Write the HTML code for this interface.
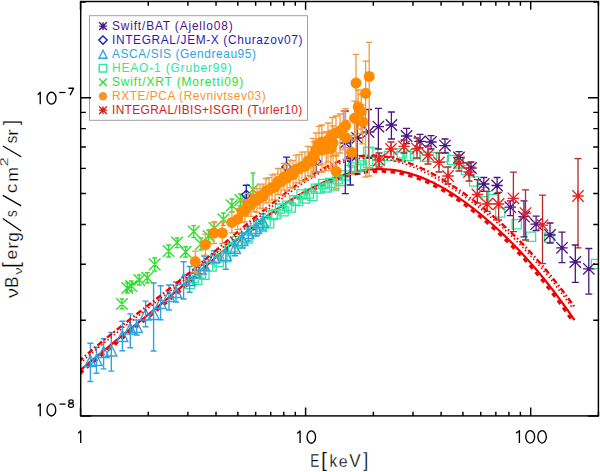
<!DOCTYPE html>
<html><head><meta charset="utf-8"><style>
html,body{margin:0;padding:0;background:#fff;}
body{width:600px;height:472px;overflow:hidden;position:relative;}
svg{position:absolute;left:0;top:0;}
text{font-family:"Liberation Sans", sans-serif;}
</style></head><body>
<svg width="600" height="472" viewBox="0 0 600 472">
<defs><clipPath id="pc"><rect x="80.7" y="1.5" width="517.7" height="414.4"/></clipPath></defs><g clip-path="url(#pc)"><path d="M79.94 373.56L81.94 371.84L83.93 370.12L85.93 368.42L87.92 366.72L89.92 365.02L91.92 363.34L93.91 361.66L95.91 359.99L97.91 358.32L99.91 356.66L101.90 355.00L103.90 353.35L105.90 351.71L107.90 350.07L109.89 348.43L111.89 346.79L113.89 345.16L115.89 343.54L117.89 341.91L119.89 340.29L121.88 338.67L123.88 337.05L125.88 335.43L127.88 333.81L129.88 332.20L131.88 330.58L133.88 328.97L135.88 327.35L137.88 325.73L139.88 324.12L141.88 322.50L143.89 320.88L145.89 319.25L147.89 317.63L149.89 316.00L151.89 314.37L153.89 312.74L155.89 311.10L157.90 309.45L159.90 307.81L161.90 306.16L163.90 304.50L165.91 302.84L167.91 301.17L169.91 299.50L171.92 297.82L173.92 296.13L175.92 294.44L177.92 292.75L179.92 291.05L181.93 289.34L183.93 287.64L185.93 285.93L187.93 284.21L189.93 282.50L191.93 280.78L193.93 279.06L195.93 277.34L197.93 275.62L199.93 273.90L201.93 272.18L203.93 270.46L205.93 268.75L207.93 267.03L209.93 265.32L211.93 263.60L213.93 261.89L215.93 260.19L217.93 258.49L219.92 256.79L221.92 255.10L223.92 253.41L225.92 251.72L227.91 250.05L229.91 248.38L231.91 246.71L233.90 245.06L235.90 243.41L237.90 241.77L239.89 240.13L241.89 238.51L243.88 236.90L245.88 235.29L247.87 233.70L249.87 232.11L251.86 230.54L253.85 228.98L255.85 227.43L257.84 225.89L259.83 224.37L261.83 222.85L263.82 221.36L265.81 219.87L267.80 218.40L269.79 216.95L271.78 215.51L273.77 214.09L275.77 212.68L277.76 211.29L279.74 209.91L281.73 208.56L283.72 207.22L285.71 205.90L287.70 204.60L289.69 203.31L291.67 202.05L293.66 200.81L295.65 199.58L297.63 198.38L299.62 197.20L301.60 196.04L303.59 194.90L305.57 193.78L307.55 192.68L309.54 191.61L311.52 190.56L313.50 189.54L315.48 188.54L317.46 187.56L319.44 186.61L321.42 185.68L323.40 184.78L325.38 183.90L327.36 183.05L329.33 182.23L331.31 181.43L333.29 180.66L335.26 179.92L337.23 179.21L339.21 178.52L341.18 177.86L343.15 177.24L345.12 176.64L347.09 176.07L349.06 175.53L351.03 175.03L353.00 174.55L354.97 174.11L356.94 173.69L358.90 173.31L360.87 172.96L362.83 172.65L364.80 172.36L366.76 172.11L368.72 171.90L370.68 171.72L372.65 171.57L374.61 171.46L376.57 171.38L378.53 171.34L380.49 171.33L382.44 171.36L384.40 171.43L386.36 171.54L388.32 171.68L390.28 171.86L392.24 172.08L394.19 172.33L396.15 172.63L398.11 172.96L400.07 173.34L402.03 173.75L403.99 174.20L405.95 174.69L407.91 175.21L409.87 175.78L411.84 176.38L413.80 177.02L415.77 177.69L417.74 178.40L419.71 179.14L421.67 179.92L423.64 180.74L425.62 181.59L427.59 182.47L429.56 183.38L431.53 184.33L433.51 185.31L435.48 186.33L437.46 187.37L439.44 188.45L441.41 189.56L443.39 190.70L445.37 191.86L447.35 193.06L449.33 194.29L451.31 195.55L453.29 196.83L455.28 198.15L457.26 199.49L459.24 200.85L461.23 202.25L463.21 203.67L465.20 205.12L467.18 206.59L469.17 208.09L471.15 209.61L473.14 211.16L475.13 212.73L477.12 214.33L479.11 215.95L481.09 217.59L483.08 219.25L485.07 220.94L487.06 222.65L489.05 224.38L491.04 226.14L493.03 227.92L495.02 229.72L497.01 231.55L498.99 233.41L500.98 235.29L502.97 237.19L504.96 239.12L506.95 241.08L508.94 243.06L510.93 245.06L512.92 247.09L514.91 249.15L516.90 251.24L518.89 253.35L520.88 255.49L522.88 257.66L524.87 259.85L526.86 262.07L528.85 264.32L530.84 266.60L532.83 268.91L534.82 271.24L536.81 273.61L538.80 276.00L540.80 278.42L542.79 280.88L544.78 283.36L546.77 285.87L548.76 288.41L550.76 290.98L552.75 293.59L554.74 296.22L556.73 298.88L558.73 301.58L560.72 304.31L562.71 307.07L564.71 309.86L566.70 312.68L568.69 315.54L570.69 318.43L572.68 321.36" stroke="#f00000" stroke-width="3.0" fill="none" stroke-dasharray="4.5 4.5"/>
<path d="M78.50 371.90L80.50 370.17L82.50 368.45L84.50 366.74L86.50 365.04L88.50 363.34L90.50 361.66L92.50 359.97L94.50 358.30L96.50 356.63L98.50 354.97L100.50 353.31L102.50 351.66L104.50 350.01L106.50 348.37L108.50 346.73L110.50 345.09L112.50 343.46L114.50 341.83L116.50 340.20L118.50 338.58L120.50 336.96L122.50 335.34L124.50 333.72L126.50 332.10L128.50 330.49L130.50 328.87L132.50 327.26L134.50 325.64L136.50 324.02L138.50 322.41L140.50 320.79L142.50 319.17L144.50 317.55L146.50 315.92L148.50 314.29L150.50 312.66L152.50 311.03L154.50 309.40L156.50 307.75L158.50 306.11L160.50 304.46L162.50 302.81L164.50 301.15L166.50 299.48L168.50 297.81L170.50 296.13L172.50 294.45L174.50 292.76L176.50 291.07L178.50 289.37L180.50 287.67L182.50 285.96L184.50 284.25L186.50 282.54L188.50 280.83L190.50 279.11L192.50 277.39L194.50 275.67L196.50 273.95L198.50 272.23L200.50 270.51L202.50 268.80L204.50 267.08L206.50 265.36L208.50 263.64L210.50 261.93L212.50 260.22L214.50 258.51L216.50 256.81L218.50 255.11L220.50 253.42L222.50 251.73L224.50 250.04L226.50 248.36L228.50 246.69L230.50 245.02L232.50 243.36L234.50 241.71L236.50 240.06L238.50 238.43L240.50 236.80L242.50 235.18L244.50 233.57L246.50 231.98L248.50 230.39L250.50 228.81L252.50 227.24L254.50 225.69L256.50 224.15L258.50 222.62L260.50 221.10L262.50 219.59L264.50 218.10L266.50 216.63L268.50 215.17L270.50 213.72L272.50 212.29L274.50 210.88L276.50 209.48L278.50 208.10L280.50 206.74L282.50 205.39L284.50 204.06L286.50 202.75L288.50 201.46L290.50 200.19L292.50 198.94L294.50 197.70L296.50 196.49L298.50 195.30L300.50 194.13L302.50 192.98L304.50 191.86L306.50 190.75L308.50 189.67L310.50 188.61L312.50 187.58L314.50 186.57L316.50 185.58L318.50 184.62L320.50 183.68L322.50 182.77L324.50 181.88L326.50 181.02L328.50 180.19L330.50 179.39L332.50 178.61L334.50 177.86L336.50 177.13L338.50 176.44L340.50 175.77L342.50 175.14L344.50 174.53L346.50 173.95L348.50 173.41L350.50 172.89L352.50 172.41L354.50 171.96L356.50 171.54L358.50 171.15L360.50 170.79L362.50 170.47L364.50 170.18L366.50 169.93L368.50 169.71L370.50 169.52L372.50 169.37L374.50 169.26L376.50 169.18L378.50 169.14L380.50 169.13L382.50 169.16L384.50 169.23L386.50 169.34L388.50 169.49L390.50 169.67L392.50 169.89L394.50 170.15L396.50 170.46L398.50 170.80L400.50 171.18L402.50 171.60L404.50 172.06L406.50 172.56L408.50 173.09L410.50 173.67L412.50 174.28L414.50 174.93L416.50 175.61L418.50 176.34L420.50 177.09L422.50 177.88L424.50 178.71L426.50 179.57L428.50 180.47L430.50 181.40L432.50 182.36L434.50 183.35L436.50 184.38L438.50 185.43L440.50 186.52L442.50 187.64L444.50 188.80L446.50 189.98L448.50 191.19L450.50 192.43L452.50 193.70L454.50 194.99L456.50 196.32L458.50 197.67L460.50 199.05L462.50 200.46L464.50 201.89L466.50 203.35L468.50 204.83L470.50 206.34L472.50 207.87L474.50 209.43L476.50 211.01L478.50 212.62L480.50 214.25L482.50 215.90L484.50 217.57L486.50 219.27L488.50 220.98L490.50 222.73L492.50 224.49L494.50 226.29L496.50 228.10L498.50 229.94L500.50 231.80L502.50 233.69L504.50 235.61L506.50 237.55L508.50 239.51L510.50 241.50L512.50 243.52L514.50 245.56L516.50 247.63L518.50 249.73L520.50 251.85L522.50 254.00L524.50 256.17L526.50 258.38L528.50 260.61L530.50 262.87L532.50 265.16L534.50 267.48L536.50 269.82L538.50 272.20L540.50 274.60L542.50 277.03L544.50 279.49L546.50 281.98L548.50 284.51L550.50 287.06L552.50 289.64L554.50 292.25L556.50 294.90L558.50 297.57L560.50 300.28L562.50 303.02L564.50 305.79L566.50 308.59L568.50 311.42L570.50 314.29L572.50 317.18L574.50 320.12" stroke="#f00000" stroke-width="2.2" fill="none"/>
<path d="M185.4 279.4h9.2v9.2h-9.2zM189.0 273.3h9.2v9.2h-9.2zM192.6 275.3h9.2v9.2h-9.2zM196.2 269.2h9.2v9.2h-9.2zM199.8 270.1h9.2v9.2h-9.2zM203.4 262.0h9.2v9.2h-9.2zM207.0 261.9h9.2v9.2h-9.2zM210.6 254.3h9.2v9.2h-9.2zM214.2 257.3h9.2v9.2h-9.2zM217.8 251.2h9.2v9.2h-9.2zM221.4 252.7h9.2v9.2h-9.2zM225.0 244.2h9.2v9.2h-9.2zM228.6 242.7h9.2v9.2h-9.2zM232.2 236.7h9.2v9.2h-9.2zM235.8 238.8h9.2v9.2h-9.2zM239.4 232.9h9.2v9.2h-9.2zM243.0 234.0h9.2v9.2h-9.2zM246.6 226.2h9.2v9.2h-9.2zM250.2 226.4h9.2v9.2h-9.2zM253.8 219.1h9.2v9.2h-9.2zM257.4 222.4h9.2v9.2h-9.2zM261.0 216.7h9.2v9.2h-9.2zM264.6 218.6h9.2v9.2h-9.2zM268.2 210.5h9.2v9.2h-9.2zM271.8 209.5h9.2v9.2h-9.2zM275.4 204.0h9.2v9.2h-9.2zM279.0 206.6h9.2v9.2h-9.2zM282.6 201.2h9.2v9.2h-9.2zM286.2 202.9h9.2v9.2h-9.2zM289.8 195.7h9.2v9.2h-9.2zM293.4 196.5h9.2v9.2h-9.2zM297.0 189.9h9.2v9.2h-9.2zM300.6 193.9h9.2v9.2h-9.2zM304.2 188.9h9.2v9.2h-9.2zM307.8 191.5h9.2v9.2h-9.2zM311.4 184.2h9.2v9.2h-9.2zM315.0 184.0h9.2v9.2h-9.2zM318.6 179.4h9.2v9.2h-9.2zM322.2 182.8h9.2v9.2h-9.2zM325.8 178.3h9.2v9.2h-9.2zM329.4 180.9h9.2v9.2h-9.2zM333.0 174.7h9.2v9.2h-9.2zM336.6 176.5h9.2v9.2h-9.2zM340.2 170.8h9.2v9.2h-9.2zM345.4 165.4h9.2v9.2h-9.2zM351.4 162.9h9.2v9.2h-9.2zM357.4 160.9h9.2v9.2h-9.2zM363.4 158.4h9.2v9.2h-9.2zM369.4 156.4h9.2v9.2h-9.2zM348.4 157.9h9.2v9.2h-9.2zM355.4 155.4h9.2v9.2h-9.2zM363.7 147.1h9.2v9.2h-9.2zM368.7 147.9h9.2v9.2h-9.2zM375.4 155.4h9.2v9.2h-9.2zM384.4 151.4h9.2v9.2h-9.2zM393.7 152.1h9.2v9.2h-9.2zM397.1 148.7h9.2v9.2h-9.2zM404.4 151.4h9.2v9.2h-9.2zM410.4 149.6h9.2v9.2h-9.2zM420.4 152.1h9.2v9.2h-9.2zM427.4 152.4h9.2v9.2h-9.2zM439.4 152.4h9.2v9.2h-9.2zM447.4 155.4h9.2v9.2h-9.2zM454.4 158.8h9.2v9.2h-9.2zM461.4 165.4h9.2v9.2h-9.2zM469.6 176.9h9.2v9.2h-9.2zM479.4 187.4h9.2v9.2h-9.2zM488.4 194.4h9.2v9.2h-9.2zM495.6 207.9h9.2v9.2h-9.2zM512.1 219.7h9.2v9.2h-9.2zM526.4 232.1h9.2v9.2h-9.2zM544.6 233.0h9.2v9.2h-9.2zM591.4 259.4h9.2v9.2h-9.2z" stroke="#2ee6a0" stroke-width="1.3" fill="none"/>
<path d="M90.4 343.3V381.5M87.4 343.3h6.0M87.4 381.5h6.0M84.9 366.5L90.4 355.5L95.9 366.5zM96.5 347.2V373.2M93.5 347.2h6.0M93.5 373.2h6.0M91.0 365.5L96.5 354.5L102.0 365.5zM103.6 338.8V368.9M100.6 338.8h6.0M100.6 368.9h6.0M98.1 357.5L103.6 346.5L109.1 357.5zM111.3 332.5V371.1M108.3 332.5h6.0M108.3 371.1h6.0M105.8 356.0L111.3 345.0L116.8 356.0zM122.4 321.2V350.8M119.4 321.2h6.0M119.4 350.8h6.0M116.9 341.5L122.4 330.5L127.9 341.5zM130.3 313.9V347.7M127.3 313.9h6.0M127.3 347.7h6.0M124.8 334.1L130.3 323.1L135.8 334.1zM136.8 320.0V335.0M133.8 320.0h6.0M133.8 335.0h6.0M131.3 332.5L136.8 321.5L142.3 332.5zM145.6 301.1V326.8M142.6 301.1h6.0M142.6 326.8h6.0M140.1 320.0L145.6 309.0L151.1 320.0zM153.6 283.0V351.0M150.6 283.0h6.0M150.6 351.0h6.0M148.1 319.5L153.6 308.5L159.1 319.5zM160.6 285.8V319.7M157.6 285.8h6.0M157.6 319.7h6.0M155.1 308.5L160.6 297.5L166.1 308.5zM169.0 285.0V310.0M166.0 285.0h6.0M166.0 310.0h6.0M163.5 301.5L169.0 290.5L174.5 301.5zM176.0 282.0V302.0M173.0 282.0h6.0M173.0 302.0h6.0M170.5 297.5L176.0 286.5L181.5 297.5zM183.6 261.7V299.0M180.6 261.7h6.0M180.6 299.0h6.0M178.1 284.5L183.6 273.5L189.1 284.5zM189.6 266.5V292.2M186.6 266.5h6.0M186.6 292.2h6.0M184.1 285.5L189.6 274.5L195.1 285.5zM195.0 265.0V278.3M192.0 265.0h6.0M192.0 278.3h6.0M189.5 277.5L195.0 266.5L200.5 277.5zM204.0 256.0V274.0M201.0 256.0h6.0M201.0 274.0h6.0M198.5 270.5L204.0 259.5L209.5 270.5zM214.2 250.8V262.5M211.2 250.8h6.0M211.2 262.5h6.0M208.7 262.5L214.2 251.5L219.7 262.5zM225.8 243.3V269.2M222.8 243.3h6.0M222.8 269.2h6.0M220.3 260.5L225.8 249.5L231.3 260.5zM235.0 240.0V255.8M232.0 240.0h6.0M232.0 255.8h6.0M229.5 253.5L235.0 242.5L240.5 253.5zM242.5 233.0V248.0M239.5 233.0h6.0M239.5 248.0h6.0M237.0 245.5L242.5 234.5L248.0 245.5zM248.3 226.0V241.0M245.3 226.0h6.0M245.3 241.0h6.0M242.8 238.5L248.3 227.5L253.8 238.5zM256.0 220.0V236.0M253.0 220.0h6.0M253.0 236.0h6.0M250.5 233.5L256.0 222.5L261.5 233.5zM263.0 214.0V230.0M260.0 214.0h6.0M260.0 230.0h6.0M257.5 227.5L263.0 216.5L268.5 227.5z" stroke="#2ea2e2" stroke-width="1.4" fill="none"/>
<path d="M78.50 361.77L80.50 360.00L82.50 358.25L84.50 356.51L86.50 354.78L88.50 353.06L90.50 351.35L92.50 349.66L94.50 347.97L96.50 346.29L98.50 344.63L100.50 342.97L102.50 341.32L104.50 339.68L106.50 338.05L108.50 336.43L110.50 334.81L112.50 333.20L114.50 331.60L116.50 330.00L118.50 328.41L120.50 326.83L122.50 325.25L124.50 323.67L126.50 322.10L128.50 320.53L130.50 318.97L132.50 317.41L134.50 315.85L136.50 314.29L138.50 312.74L140.50 311.19L142.50 309.64L144.50 308.09L146.50 306.53L148.50 304.98L150.50 303.43L152.50 301.88L154.50 300.33L156.50 298.77L158.50 297.22L160.50 295.66L162.50 294.10L164.50 292.53L166.50 290.96L168.50 289.39L170.50 287.82L172.50 286.24L174.50 284.65L176.50 283.06L178.50 281.46L180.50 279.86L182.50 278.25L184.50 276.63L186.50 275.01L188.50 273.37L190.50 271.73L192.50 270.09L194.50 268.43L196.50 266.77L198.50 265.11L200.50 263.44L202.50 261.76L204.50 260.08L206.50 258.39L208.50 256.70L210.50 255.01L212.50 253.32L214.50 251.62L216.50 249.92L218.50 248.22L220.50 246.51L222.50 244.81L224.50 243.11L226.50 241.40L228.50 239.70L230.50 238.00L232.50 236.30L234.50 234.60L236.50 232.90L238.50 231.20L240.50 229.51L242.50 227.82L244.50 226.14L246.50 224.46L248.50 222.78L250.50 221.11L252.50 219.44L254.50 217.78L256.50 216.13L258.50 214.48L260.50 212.84L262.50 211.21L264.50 209.59L266.50 207.97L268.50 206.37L270.50 204.77L272.50 203.18L274.50 201.60L276.50 200.04L278.50 198.48L280.50 196.93L282.50 195.40L284.50 193.88L286.50 192.38L288.50 190.88L290.50 189.41L292.50 187.95L294.50 186.51L296.50 185.09L298.50 183.69L300.50 182.32L302.50 180.96L304.50 179.63L306.50 178.32L308.50 177.04L310.50 175.78L312.50 174.56L314.50 173.36L316.50 172.19L318.50 171.05L320.50 169.95L322.50 168.87L324.50 167.83L326.50 166.83L328.50 165.86L330.50 164.93L332.50 164.04L334.50 163.19L336.50 162.38L338.50 161.61L340.50 160.88L342.50 160.19L344.50 159.55L346.50 158.96L348.50 158.41L350.50 157.91L352.50 157.46L354.50 157.06L356.50 156.70L358.50 156.40L360.50 156.15L362.50 155.94L364.50 155.78L366.50 155.66L368.50 155.59L370.50 155.57L372.50 155.59L374.50 155.66L376.50 155.76L378.50 155.91L380.50 156.11L382.50 156.34L384.50 156.61L386.50 156.93L388.50 157.28L390.50 157.68L392.50 158.11L394.50 158.58L396.50 159.08L398.50 159.62L400.50 160.20L402.50 160.81L404.50 161.46L406.50 162.14L408.50 162.85L410.50 163.60L412.50 164.38L414.50 165.19L416.50 166.03L418.50 166.90L420.50 167.80L422.50 168.73L424.50 169.69L426.50 170.67L428.50 171.69L430.50 172.72L432.50 173.79L434.50 174.88L436.50 175.99L438.50 177.13L440.50 178.29L442.50 179.47L444.50 180.68L446.50 181.91L448.50 183.15L450.50 184.42L452.50 185.71L454.50 187.01L456.50 188.34L458.50 189.68L460.50 191.05L462.50 192.43L464.50 193.83L466.50 195.25L468.50 196.69L470.50 198.15L472.50 199.63L474.50 201.13L476.50 202.66L478.50 204.20L480.50 205.76L482.50 207.35L484.50 208.96L486.50 210.58L488.50 212.24L490.50 213.91L492.50 215.60L494.50 217.32L496.50 219.06L498.50 220.83L500.50 222.61L502.50 224.42L504.50 226.26L506.50 228.11L508.50 230.00L510.50 231.90L512.50 233.83L514.50 235.79L516.50 237.77L518.50 239.77L520.50 241.80L522.50 243.86L524.50 245.94L526.50 248.05L528.50 250.18L530.50 252.35L532.50 254.53L534.50 256.75L536.50 258.99L538.50 261.26L540.50 263.55L542.50 265.87L544.50 268.23L546.50 270.61L548.50 273.01L550.50 275.45L552.50 277.91L554.50 280.41L556.50 282.93L558.50 285.48L560.50 288.06L562.50 290.68L564.50 293.32L566.50 295.99L568.50 298.69L570.50 301.42L572.50 304.19L574.50 306.98" stroke="#f00000" stroke-width="2.4" fill="none" stroke-dasharray="6 2.5 1.5 2.5"/>
<path d="M80.02 363.49L82.02 361.73L84.01 359.98L86.01 358.24L88.00 356.52L90.00 354.81L91.99 353.10L93.98 351.41L95.98 349.73L97.97 348.06L99.97 346.40L101.96 344.74L103.96 343.10L105.96 341.46L107.95 339.84L109.95 338.22L111.94 336.60L113.94 335.00L115.94 333.40L117.93 331.80L119.93 330.22L121.93 328.63L123.92 327.05L125.92 325.48L127.92 323.91L129.92 322.34L131.92 320.78L133.91 319.22L135.91 317.67L137.91 316.11L139.91 314.56L141.91 313.00L143.91 311.45L145.91 309.90L147.91 308.35L149.91 306.80L151.91 305.25L153.91 303.70L155.91 302.15L157.91 300.59L159.91 299.03L161.91 297.47L163.92 295.91L165.92 294.34L167.92 292.77L169.92 291.20L171.93 289.62L173.93 288.04L175.93 286.45L177.93 284.86L179.94 283.26L181.94 281.65L183.94 280.04L185.95 278.42L187.95 276.79L189.96 275.15L191.96 273.51L193.96 271.86L195.97 270.20L197.97 268.54L199.97 266.87L201.98 265.20L203.98 263.52L205.98 261.84L207.98 260.15L209.98 258.46L211.99 256.77L213.99 255.07L215.99 253.37L217.99 251.67L219.99 249.97L221.99 248.27L223.99 246.56L225.99 244.86L227.99 243.15L229.99 241.45L231.99 239.75L233.99 238.05L235.99 236.35L237.99 234.65L239.99 232.96L241.98 231.27L243.98 229.58L245.98 227.90L247.98 226.22L249.98 224.54L251.97 222.87L253.97 221.21L255.97 219.55L257.96 217.90L259.96 216.26L261.96 214.62L263.95 213.00L265.95 211.38L267.94 209.76L269.94 208.16L271.93 206.57L273.93 204.98L275.92 203.41L277.92 201.85L279.91 200.30L281.90 198.76L283.90 197.23L285.89 195.72L287.88 194.22L289.87 192.73L291.86 191.27L293.85 189.82L295.84 188.39L297.83 186.97L299.81 185.58L301.80 184.22L303.78 182.87L305.77 181.55L307.75 180.25L309.73 178.98L311.71 177.74L313.69 176.52L315.67 175.34L317.65 174.18L319.63 173.06L321.60 171.97L323.57 170.91L325.55 169.88L327.52 168.89L329.49 167.94L331.45 167.03L333.42 166.15L335.38 165.31L337.35 164.51L339.31 163.76L341.27 163.05L343.22 162.38L345.18 161.75L347.13 161.17L349.08 160.63L351.03 160.15L352.98 159.71L354.93 159.32L356.87 158.97L358.82 158.68L360.76 158.43L362.71 158.23L364.66 158.07L366.61 157.96L368.55 157.89L370.50 157.87L372.45 157.89L374.40 157.95L376.35 158.06L378.30 158.21L380.26 158.39L382.21 158.62L384.17 158.89L386.12 159.20L388.08 159.54L390.04 159.93L392.00 160.35L393.96 160.81L395.92 161.31L397.88 161.84L399.84 162.40L401.81 163.01L403.78 163.64L405.74 164.31L407.71 165.01L409.68 165.75L411.65 166.52L413.62 167.32L415.60 168.14L417.57 169.00L419.54 169.89L421.52 170.81L423.50 171.76L425.47 172.73L427.45 173.73L429.43 174.76L431.41 175.81L433.39 176.89L435.37 178.00L437.35 179.12L439.34 180.27L441.32 181.45L443.30 182.64L445.29 183.86L447.28 185.10L449.26 186.36L451.25 187.64L453.24 188.94L455.22 190.25L457.21 191.59L459.20 192.94L461.19 194.32L463.17 195.71L465.16 197.12L467.15 198.55L469.14 200.00L471.13 201.48L473.11 202.97L475.10 204.48L477.09 206.02L479.08 207.57L481.07 209.15L483.05 210.74L485.04 212.36L487.03 214.00L489.02 215.67L491.01 217.35L493.00 219.06L494.98 220.79L496.97 222.55L498.96 224.32L500.95 226.12L502.94 227.95L504.93 229.79L506.92 231.67L508.91 233.56L510.90 235.48L512.89 237.43L514.88 239.40L516.87 241.39L518.86 243.41L520.85 245.46L522.84 247.53L524.83 249.63L526.82 251.75L528.81 253.90L530.80 256.08L532.79 258.28L534.78 260.51L536.77 262.77L538.76 265.06L540.75 267.37L542.74 269.71L544.74 272.08L546.73 274.48L548.72 276.90L550.71 279.36L552.70 281.84L554.69 284.35L556.69 286.90L558.68 289.47L560.67 292.07L562.66 294.70L564.66 297.36L566.65 300.05L568.64 302.78L570.63 305.53L572.63 308.32" stroke="#e00000" stroke-width="1.6" fill="none" stroke-dasharray="1.5 2.5"/>
<path d="M122.0 299.0V308.7M119.6 299.0h4.8M119.6 308.7h4.8M116.2 298.2l11.6 11.6M116.2 309.8l11.6 -11.6M127.3 283.0V293.0M124.9 283.0h4.8M124.9 293.0h4.8M121.5 282.2l11.6 11.6M121.5 293.8l11.6 -11.6M131.3 281.0V291.0M128.9 281.0h4.8M128.9 291.0h4.8M125.5 280.2l11.6 11.6M125.5 291.8l11.6 -11.6M139.3 275.0V285.0M136.9 275.0h4.8M136.9 285.0h4.8M133.5 274.2l11.6 11.6M133.5 285.8l11.6 -11.6M147.3 272.7V282.7M144.9 272.7h4.8M144.9 282.7h4.8M141.5 271.9l11.6 11.6M141.5 283.5l11.6 -11.6M154.7 258.0V271.0M152.3 258.0h4.8M152.3 271.0h4.8M148.9 258.6l11.6 11.6M148.9 270.2l11.6 -11.6M168.6 245.0V257.0M166.2 245.0h4.8M166.2 257.0h4.8M162.8 245.2l11.6 11.6M162.8 256.8l11.6 -11.6M177.1 238.0V247.6M174.7 238.0h4.8M174.7 247.6h4.8M171.3 236.7l11.6 11.6M171.3 248.3l11.6 -11.6M185.6 246.8V257.0M183.2 246.8h4.8M183.2 257.0h4.8M179.8 246.1l11.6 11.6M179.8 257.7l11.6 -11.6M193.7 225.6V237.5M191.3 225.6h4.8M191.3 237.5h4.8M187.9 225.7l11.6 11.6M187.9 237.3l11.6 -11.6M201.0 238.0V250.0M198.6 238.0h4.8M198.6 250.0h4.8M195.2 238.2l11.6 11.6M195.2 249.8l11.6 -11.6M208.6 230.0V242.0M206.2 230.0h4.8M206.2 242.0h4.8M202.8 230.2l11.6 11.6M202.8 241.8l11.6 -11.6M214.4 222.0V234.0M212.0 222.0h4.8M212.0 234.0h4.8M208.6 222.2l11.6 11.6M208.6 233.8l11.6 -11.6M223.4 213.0V225.4M221.0 213.0h4.8M221.0 225.4h4.8M217.6 213.4l11.6 11.6M217.6 225.0l11.6 -11.6M231.9 199.0V212.0M229.5 199.0h4.8M229.5 212.0h4.8M226.1 199.6l11.6 11.6M226.1 211.2l11.6 -11.6M240.4 194.0V206.0M238.0 194.0h4.8M238.0 206.0h4.8M234.6 194.3l11.6 11.6M234.6 205.9l11.6 -11.6M253.0 173.0V200.0M250.6 173.0h4.8M250.6 200.0h4.8M247.2 183.7l11.6 11.6M247.2 195.3l11.6 -11.6" stroke="#30e030" stroke-width="1.4" fill="none"/>
<path d="M246.3 185.3V201.0M242.8 185.3h7.0M242.8 201.0h7.0M241.7 194.8L246.3 190.2L250.9 194.8L246.3 199.4zM286.5 157.1V180.0M283.0 157.1h7.0M283.0 180.0h7.0M281.9 167.0L286.5 162.4L291.1 167.0L286.5 171.6zM316.4 152.5V172.0M312.9 152.5h7.0M312.9 172.0h7.0M311.8 161.4L316.4 156.8L321.0 161.4L316.4 166.0zM350.3 140.0V185.0M346.8 140.0h7.0M346.8 185.0h7.0M345.7 158.0L350.3 153.4L354.9 158.0L350.3 162.6z" stroke="#1f1fb4" stroke-width="1.4" fill="none"/>
<path d="M345.3 111.0V193.6M341.8 111.0h7.0M341.8 193.6h7.0M339.6 143.0h11.4M345.3 137.3v11.4M339.6 137.3l11.4 11.4M339.6 148.7l11.4 -11.4M357.1 120.0V174.0M353.6 120.0h7.0M353.6 174.0h7.0M351.4 138.0h11.4M357.1 132.3v11.4M351.4 132.3l11.4 11.4M351.4 143.7l11.4 -11.4M368.6 109.5V158.0M365.1 109.5h7.0M365.1 158.0h7.0M362.9 132.0h11.4M368.6 126.3v11.4M362.9 126.3l11.4 11.4M362.9 137.7l11.4 -11.4M378.4 108.4V149.0M374.9 108.4h7.0M374.9 149.0h7.0M372.7 126.6h11.4M378.4 120.9v11.4M372.7 120.9l11.4 11.4M372.7 132.3l11.4 -11.4M391.4 112.0V139.0M387.9 112.0h7.0M387.9 139.0h7.0M385.7 125.0h11.4M391.4 119.3v11.4M385.7 119.3l11.4 11.4M385.7 130.7l11.4 -11.4M406.6 128.4V143.6M403.1 128.4h7.0M403.1 143.6h7.0M400.9 136.0h11.4M406.6 130.3v11.4M400.9 130.3l11.4 11.4M400.9 141.7l11.4 -11.4M420.0 134.4V148.0M416.5 134.4h7.0M416.5 148.0h7.0M414.3 141.4h11.4M420.0 135.7v11.4M414.3 135.7l11.4 11.4M414.3 147.1l11.4 -11.4M431.0 135.6V149.0M427.5 135.6h7.0M427.5 149.0h7.0M425.3 142.0h11.4M431.0 136.3v11.4M425.3 136.3l11.4 11.4M425.3 147.7l11.4 -11.4M445.0 139.0V153.0M441.5 139.0h7.0M441.5 153.0h7.0M439.3 145.6h11.4M445.0 139.9v11.4M439.3 139.9l11.4 11.4M439.3 151.3l11.4 -11.4M459.0 151.6V163.6M455.5 151.6h7.0M455.5 163.6h7.0M453.3 157.4h11.4M459.0 151.7v11.4M453.3 151.7l11.4 11.4M453.3 163.1l11.4 -11.4M471.0 162.0V175.0M467.5 162.0h7.0M467.5 175.0h7.0M465.3 168.0h11.4M471.0 162.3v11.4M465.3 162.3l11.4 11.4M465.3 173.7l11.4 -11.4M483.8 177.5V191.3M480.3 177.5h7.0M480.3 191.3h7.0M478.1 184.0h11.4M483.8 178.3v11.4M478.1 178.3l11.4 11.4M478.1 189.7l11.4 -11.4M497.1 177.5V193.4M493.6 177.5h7.0M493.6 193.4h7.0M491.4 185.5h11.4M497.1 179.8v11.4M491.4 179.8l11.4 11.4M491.4 191.2l11.4 -11.4M510.3 200.8V215.7M506.8 200.8h7.0M506.8 215.7h7.0M504.6 207.2h11.4M510.3 201.5v11.4M504.6 201.5l11.4 11.4M504.6 212.9l11.4 -11.4M524.0 200.8V236.9M520.5 200.8h7.0M520.5 236.9h7.0M518.3 216.7h11.4M524.0 211.0v11.4M518.3 211.0l11.4 11.4M518.3 222.4l11.4 -11.4M536.1 216.1V230.5M532.6 216.1h7.0M532.6 230.5h7.0M530.4 224.2h11.4M536.1 218.5v11.4M530.4 218.5l11.4 11.4M530.4 229.9l11.4 -11.4M550.0 223.0V243.0M546.5 223.0h7.0M546.5 243.0h7.0M544.3 235.0h11.4M550.0 229.3v11.4M544.3 229.3l11.4 11.4M544.3 240.7l11.4 -11.4M562.0 232.2V262.7M558.5 232.2h7.0M558.5 262.7h7.0M556.3 247.8h11.4M562.0 242.1v11.4M556.3 242.1l11.4 11.4M556.3 253.5l11.4 -11.4M575.3 245.0V282.4M571.8 245.0h7.0M571.8 282.4h7.0M569.6 262.0h11.4M575.3 256.3v11.4M569.6 256.3l11.4 11.4M569.6 267.7l11.4 -11.4M588.8 248.5V294.2M585.3 248.5h7.0M585.3 294.2h7.0M583.1 268.8h11.4M588.8 263.1v11.4M583.1 263.1l11.4 11.4M583.1 274.5l11.4 -11.4" stroke="#4a1583" stroke-width="1.3" fill="none"/>
<path d="M379.0 153.0V167.0M375.5 153.0h7.0M375.5 167.0h7.0M391.0 142.0V157.0M387.5 142.0h7.0M387.5 157.0h7.0M404.0 140.0V153.0M400.5 140.0h7.0M400.5 153.0h7.0M417.0 138.0V158.0M413.5 138.0h7.0M413.5 158.0h7.0M428.0 146.0V164.0M424.5 146.0h7.0M424.5 164.0h7.0M439.0 153.0V172.0M435.5 153.0h7.0M435.5 172.0h7.0M448.0 167.0V184.0M444.5 167.0h7.0M444.5 184.0h7.0M459.0 155.0V171.0M455.5 155.0h7.0M455.5 171.0h7.0M469.0 163.0V181.0M465.5 163.0h7.0M465.5 181.0h7.0M477.4 179.7V203.0M473.9 179.7h7.0M473.9 203.0h7.0M487.0 191.3V211.4M483.5 191.3h7.0M483.5 211.4h7.0M498.6 192.4V220.0M495.1 192.4h7.0M495.1 220.0h7.0M513.4 172.2V231.6M509.9 172.2h7.0M509.9 231.6h7.0M525.5 189.8V240.0M522.0 189.8h7.0M522.0 240.0h7.0M542.5 195.1V263.7M539.0 195.1h7.0M539.0 263.7h7.0M578.0 158.6V247.8M574.5 158.6h7.0M574.5 247.8h7.0" stroke="#b42828" stroke-width="1.3" fill="none"/>
<path d="M373.3 160.0h11.4M379.0 154.3v11.4M373.3 154.3l11.4 11.4M373.3 165.7l11.4 -11.4M385.3 149.0h11.4M391.0 143.3v11.4M385.3 143.3l11.4 11.4M385.3 154.7l11.4 -11.4M398.3 146.4h11.4M404.0 140.7v11.4M398.3 140.7l11.4 11.4M398.3 152.1l11.4 -11.4M411.3 148.6h11.4M417.0 142.9v11.4M411.3 142.9l11.4 11.4M411.3 154.3l11.4 -11.4M422.3 155.0h11.4M428.0 149.3v11.4M422.3 149.3l11.4 11.4M422.3 160.7l11.4 -11.4M433.3 162.4h11.4M439.0 156.7v11.4M433.3 156.7l11.4 11.4M433.3 168.1l11.4 -11.4M442.3 176.0h11.4M448.0 170.3v11.4M442.3 170.3l11.4 11.4M442.3 181.7l11.4 -11.4M453.3 163.0h11.4M459.0 157.3v11.4M453.3 157.3l11.4 11.4M453.3 168.7l11.4 -11.4M463.3 172.0h11.4M469.0 166.3v11.4M463.3 166.3l11.4 11.4M463.3 177.7l11.4 -11.4M471.7 194.5h11.4M477.4 188.8v11.4M471.7 188.8l11.4 11.4M471.7 200.2l11.4 -11.4M481.3 204.0h11.4M487.0 198.3v11.4M481.3 198.3l11.4 11.4M481.3 209.7l11.4 -11.4M492.9 204.0h11.4M498.6 198.3v11.4M492.9 198.3l11.4 11.4M492.9 209.7l11.4 -11.4M507.7 198.3h11.4M513.4 192.6v11.4M507.7 192.6l11.4 11.4M507.7 204.0l11.4 -11.4M519.8 213.1h11.4M525.5 207.4v11.4M519.8 207.4l11.4 11.4M519.8 218.8l11.4 -11.4M536.8 225.2h11.4M542.5 219.5v11.4M536.8 219.5l11.4 11.4M536.8 230.9l11.4 -11.4M572.3 196.0h11.4M578.0 190.3v11.4M572.3 190.3l11.4 11.4M572.3 201.7l11.4 -11.4" stroke="#e82020" stroke-width="1.3" fill="none"/>
<path d="M195.3 251.1V272.1M192.1 251.1h6.4M192.1 272.1h6.4M205.4 234.1V255.1M202.2 234.1h6.4M202.2 255.1h6.4M213.9 222.5V243.5M210.7 222.5h6.4M210.7 243.5h6.4M222.4 222.5V243.5M219.2 222.5h6.4M219.2 243.5h6.4M231.9 211.9V232.9M228.7 211.9h6.4M228.7 232.9h6.4M237.6 208.7V229.7M234.4 208.7h6.4M234.4 229.7h6.4M242.0 200.5V222.5M238.8 200.5h6.4M238.8 222.5h6.4M245.0 199.6V221.9M241.8 199.6h6.4M241.8 221.9h6.4M248.0 193.6V216.3M244.8 193.6h6.4M244.8 216.3h6.4M251.0 193.4V216.4M247.8 193.4h6.4M247.8 216.4h6.4M254.0 188.0V211.3M250.8 188.0h6.4M250.8 211.3h6.4M257.0 188.6V212.3M253.8 188.6h6.4M253.8 212.3h6.4M260.0 184.1V208.1M256.8 184.1h6.4M256.8 208.1h6.4M263.0 184.2V208.6M259.8 184.2h6.4M259.8 208.6h6.4M266.0 178.5V203.2M262.8 178.5h6.4M262.8 203.2h6.4M269.0 177.7V202.7M265.8 177.7h6.4M265.8 202.7h6.4M272.0 174.8V200.2M268.8 174.8h6.4M268.8 200.2h6.4M275.0 174.2V199.9M271.8 174.2h6.4M271.8 199.9h6.4M278.0 168.5V194.5M274.8 168.5h6.4M274.8 194.5h6.4M281.0 168.6V194.9M277.8 168.6h6.4M277.8 194.9h6.4M284.0 163.5V190.2M280.8 163.5h6.4M280.8 190.2h6.4M287.0 164.4V191.4M283.8 164.4h6.4M283.8 191.4h6.4M290.0 160.2V187.6M286.8 160.2h6.4M286.8 187.6h6.4M293.0 160.6V188.3M289.8 160.6h6.4M289.8 188.3h6.4M296.0 155.2V183.2M292.8 155.2h6.4M292.8 183.2h6.4M299.0 154.7V183.0M295.8 154.7h6.4M295.8 183.0h6.4M302.0 152.1V180.8M298.8 152.1h6.4M298.8 180.8h6.4M305.0 151.8V180.8M301.8 151.8h6.4M301.8 180.8h6.4M308.0 146.4V175.8M304.8 146.4h6.4M304.8 175.8h6.4M311.0 146.8V176.5M307.8 146.8h6.4M307.8 176.5h6.4M314.0 142.0V172.0M310.8 142.0h6.4M310.8 172.0h6.4M313.0 138.3V177.3M309.8 138.3h6.4M309.8 177.3h6.4M318.9 126.4V165.4M315.7 126.4h6.4M315.7 165.4h6.4M321.9 125.0V164.0M318.7 125.0h6.4M318.7 164.0h6.4M326.3 131.6V170.6M323.1 131.6h6.4M323.1 170.6h6.4M330.8 131.6V170.6M327.6 131.6h6.4M327.6 170.6h6.4M332.3 117.5V156.5M329.1 117.5h6.4M329.1 156.5h6.4M336.0 116.0V155.0M332.8 116.0h6.4M332.8 155.0h6.4M343.4 110.8V149.8M340.2 110.8h6.4M340.2 149.8h6.4M345.6 108.6V147.6M342.4 108.6h6.4M342.4 147.6h6.4M345.6 120.5V159.5M342.4 120.5h6.4M342.4 159.5h6.4M351.5 135.3V174.3M348.3 135.3h6.4M348.3 174.3h6.4M354.5 101.2V140.2M351.3 101.2h6.4M351.3 140.2h6.4M358.2 90.0V129.0M355.0 90.0h6.4M355.0 129.0h6.4M361.2 94.5V133.5M358.0 94.5h6.4M358.0 133.5h6.4M362.7 104.9V143.9M359.5 104.9h6.4M359.5 143.9h6.4M340.0 114.0V153.0M336.8 114.0h6.4M336.8 153.0h6.4M328.0 123.0V162.0M324.8 123.0h6.4M324.8 162.0h6.4M316.0 133.0V172.0M312.8 133.0h6.4M312.8 172.0h6.4M322.0 133.0V172.0M318.8 133.0h6.4M318.8 172.0h6.4M333.0 126.0V165.0M329.8 126.0h6.4M329.8 165.0h6.4M336.2 156.0V189.0M333.0 156.0h6.4M333.0 189.0h6.4M356.0 54.4V172.0M352.8 54.4h6.4M352.8 172.0h6.4M365.6 61.2V177.0M362.4 61.2h6.4M362.4 177.0h6.4M369.2 42.4V176.0M366.0 42.4h6.4M366.0 176.0h6.4" stroke="#ee9a40" stroke-width="1.3" fill="none"/>
<circle cx="195.3" cy="261.6" r="5.5" fill="#ff8c00"/><circle cx="205.4" cy="244.6" r="5.5" fill="#ff8c00"/><circle cx="213.9" cy="233.0" r="5.5" fill="#ff8c00"/><circle cx="222.4" cy="233.0" r="5.5" fill="#ff8c00"/><circle cx="231.9" cy="222.4" r="5.5" fill="#ff8c00"/><circle cx="237.6" cy="219.2" r="5.5" fill="#ff8c00"/><circle cx="242.0" cy="211.5" r="5.5" fill="#ff8c00"/><circle cx="245.0" cy="210.8" r="5.5" fill="#ff8c00"/><circle cx="248.0" cy="205.0" r="5.5" fill="#ff8c00"/><circle cx="251.0" cy="204.9" r="5.5" fill="#ff8c00"/><circle cx="254.0" cy="199.6" r="5.5" fill="#ff8c00"/><circle cx="257.0" cy="200.4" r="5.5" fill="#ff8c00"/><circle cx="260.0" cy="196.1" r="5.5" fill="#ff8c00"/><circle cx="263.0" cy="196.4" r="5.5" fill="#ff8c00"/><circle cx="266.0" cy="190.9" r="5.5" fill="#ff8c00"/><circle cx="269.0" cy="190.2" r="5.5" fill="#ff8c00"/><circle cx="272.0" cy="187.5" r="5.5" fill="#ff8c00"/><circle cx="275.0" cy="187.1" r="5.5" fill="#ff8c00"/><circle cx="278.0" cy="181.5" r="5.5" fill="#ff8c00"/><circle cx="281.0" cy="181.8" r="5.5" fill="#ff8c00"/><circle cx="284.0" cy="176.8" r="5.5" fill="#ff8c00"/><circle cx="287.0" cy="177.9" r="5.5" fill="#ff8c00"/><circle cx="290.0" cy="173.9" r="5.5" fill="#ff8c00"/><circle cx="293.0" cy="174.5" r="5.5" fill="#ff8c00"/><circle cx="296.0" cy="169.2" r="5.5" fill="#ff8c00"/><circle cx="299.0" cy="168.8" r="5.5" fill="#ff8c00"/><circle cx="302.0" cy="166.5" r="5.5" fill="#ff8c00"/><circle cx="305.0" cy="166.3" r="5.5" fill="#ff8c00"/><circle cx="308.0" cy="161.1" r="5.5" fill="#ff8c00"/><circle cx="311.0" cy="161.6" r="5.5" fill="#ff8c00"/><circle cx="314.0" cy="157.0" r="5.5" fill="#ff8c00"/><circle cx="313.0" cy="155.3" r="5.5" fill="#ff8c00"/><circle cx="318.9" cy="143.4" r="5.5" fill="#ff8c00"/><circle cx="321.9" cy="142.0" r="5.5" fill="#ff8c00"/><circle cx="326.3" cy="148.6" r="5.5" fill="#ff8c00"/><circle cx="330.8" cy="148.6" r="5.5" fill="#ff8c00"/><circle cx="332.3" cy="134.5" r="5.5" fill="#ff8c00"/><circle cx="336.0" cy="133.0" r="5.5" fill="#ff8c00"/><circle cx="343.4" cy="127.8" r="5.5" fill="#ff8c00"/><circle cx="345.6" cy="125.6" r="5.5" fill="#ff8c00"/><circle cx="345.6" cy="137.5" r="5.5" fill="#ff8c00"/><circle cx="351.5" cy="152.3" r="5.5" fill="#ff8c00"/><circle cx="354.5" cy="118.2" r="5.5" fill="#ff8c00"/><circle cx="358.2" cy="107.0" r="5.5" fill="#ff8c00"/><circle cx="361.2" cy="111.5" r="5.5" fill="#ff8c00"/><circle cx="362.7" cy="121.9" r="5.5" fill="#ff8c00"/><circle cx="340.0" cy="131.0" r="5.5" fill="#ff8c00"/><circle cx="328.0" cy="140.0" r="5.5" fill="#ff8c00"/><circle cx="316.0" cy="150.0" r="5.5" fill="#ff8c00"/><circle cx="322.0" cy="150.0" r="5.5" fill="#ff8c00"/><circle cx="333.0" cy="143.0" r="5.5" fill="#ff8c00"/><circle cx="336.2" cy="171.4" r="5.5" fill="#ff8c00"/><circle cx="356.0" cy="83.0" r="5.5" fill="#ff8c00"/><circle cx="365.6" cy="93.3" r="5.5" fill="#ff8c00"/><circle cx="369.2" cy="76.4" r="5.5" fill="#ff8c00"/>
<rect x="89.5" y="15.7" width="218" height="104.6" fill="#fff" stroke="#a0a0a0" stroke-width="1"/>
<path d="M99.2 26.1h7.6M103.0 22.3v7.6M99.2 22.3l7.6 7.6M99.2 29.9l7.6 -7.6" stroke="#4a1583" stroke-width="1.4" fill="none"/>
<text x="112" y="30.0" font-size="11.9" fill="#4a1583" textLength="120.7" lengthAdjust="spacing">Swift/BAT (Ajello08)</text>
<path d="M98.8 40.1L103.0 35.9L107.2 40.1L103.0 44.3z" stroke="#1f1fb4" stroke-width="1.4" fill="none"/>
<text x="112" y="44.03" font-size="11.9" fill="#1f1fb4" textLength="190.5" lengthAdjust="spacing">INTEGRAL/JEM-X (Churazov07)</text>
<path d="M99.0 58.2L103.0 50.2L107.0 58.2z" stroke="#2ea2e2" stroke-width="1.4" fill="none"/>
<text x="112" y="58.06" font-size="11.9" fill="#2ea2e2" textLength="144" lengthAdjust="spacing">ASCA/SIS (Gendreau95)</text>
<path d="M99.2 64.4h7.6v7.6h-7.6z" stroke="#2ee6a0" stroke-width="1.4" fill="none"/>
<text x="112" y="72.09" font-size="11.9" fill="#2ee6a0" textLength="119.7" lengthAdjust="spacing">HEAO-1 (Gruber99)</text>
<path d="M99.2 78.4l7.6 7.6M99.2 86.0l7.6 -7.6" stroke="#30e030" stroke-width="1.4" fill="none"/>
<text x="112" y="86.12" font-size="11.9" fill="#30e030" textLength="131.2" lengthAdjust="spacing">Swift/XRT (Moretti09)</text>
<circle cx="103" cy="96.24999999999999" r="4.2" fill="#f59530"/>
<text x="112" y="100.14999999999999" font-size="11.9" fill="#f59530" textLength="153.7" lengthAdjust="spacing">RXTE/PCA (Revnivtsev03)</text>
<path d="M99.2 110.3h7.6M103.0 106.5v7.6M99.2 106.5l7.6 7.6M99.2 114.1l7.6 -7.6" stroke="#d82020" stroke-width="1.4" fill="none"/>
<text x="112" y="114.17999999999999" font-size="11.9" fill="#d82020" textLength="190.2" lengthAdjust="spacing">INTEGRAL/IBIS+ISGRI (Turler10)</text></g><rect x="80.7" y="1.5" width="517.6999999999999" height="414.4" fill="none" stroke="#000" stroke-width="1.45"/><path d="M80.50 415.9v-8.3M80.50 1.5v8.3M148.26 415.9v-4.2M148.26 1.5v4.2M187.90 415.9v-4.2M187.90 1.5v4.2M216.02 415.9v-4.2M216.02 1.5v4.2M237.84 415.9v-4.2M237.84 1.5v4.2M255.66 415.9v-4.2M255.66 1.5v4.2M270.73 415.9v-4.2M270.73 1.5v4.2M283.79 415.9v-4.2M283.79 1.5v4.2M295.30 415.9v-4.2M295.30 1.5v4.2M305.60 415.9v-8.3M305.60 1.5v8.3M373.36 415.9v-4.2M373.36 1.5v4.2M413.00 415.9v-4.2M413.00 1.5v4.2M441.12 415.9v-4.2M441.12 1.5v4.2M462.94 415.9v-4.2M462.94 1.5v4.2M480.76 415.9v-4.2M480.76 1.5v4.2M495.83 415.9v-4.2M495.83 1.5v4.2M508.89 415.9v-4.2M508.89 1.5v4.2M520.40 415.9v-4.2M520.40 1.5v4.2M530.70 415.9v-8.3M530.70 1.5v8.3M598.46 415.9v-4.2M598.46 1.5v4.2M80.7 416.00h10.4M598.4 416.00h-10.4M80.7 320.21h5.2M598.4 320.21h-5.2M80.7 264.18h5.2M598.4 264.18h-5.2M80.7 224.42h5.2M598.4 224.42h-5.2M80.7 193.59h5.2M598.4 193.59h-5.2M80.7 168.39h5.2M598.4 168.39h-5.2M80.7 147.09h5.2M598.4 147.09h-5.2M80.7 128.64h5.2M598.4 128.64h-5.2M80.7 112.36h5.2M598.4 112.36h-5.2M80.7 97.80h10.4M598.4 97.80h-10.4M80.7 2.01h5.2M598.4 2.01h-5.2" stroke="#000" stroke-width="1.45" fill="none"/><path d="M80.70 443.00V430.80L78.20 433.40" stroke="#000" stroke-width="1.35" fill="none" stroke-linejoin="round"/>
<path d="M300.10 442.90V431.00L297.20 433.60" stroke="#000" stroke-width="1.35" fill="none" stroke-linejoin="round"/>
<ellipse cx="311.30" cy="437.05" rx="4.25" ry="6.20" stroke="#000" stroke-width="1.35" fill="none"/>
<path d="M519.40 443.00V430.70L516.10 433.30" stroke="#000" stroke-width="1.35" fill="none" stroke-linejoin="round"/>
<ellipse cx="530.20" cy="436.80" rx="4.45" ry="6.25" stroke="#000" stroke-width="1.35" fill="none"/>
<ellipse cx="542.10" cy="436.80" rx="4.25" ry="6.25" stroke="#000" stroke-width="1.35" fill="none"/>
<text font-size="100" fill="#000" stroke="#fff" stroke-width="1.56" transform="matrix(0.13641 0 0 0.18327 310.225 466.650)">E</text>
<text font-size="100" fill="#000" stroke="#fff" stroke-width="1.19" transform="matrix(0.21266 0 0 0.20804 321.108 466.733)">[</text>
<text font-size="100" fill="#000" stroke="#fff" stroke-width="1.51" transform="matrix(0.15491 0 0 0.17655 329.404 466.650)">k</text>
<text font-size="100" fill="#000" stroke="#fff" stroke-width="1.53" transform="matrix(0.15957 0 0 0.16804 338.772 466.682)">e</text>
<text font-size="100" fill="#000" stroke="#fff" stroke-width="1.41" transform="matrix(0.17034 0 0 0.18327 349.165 466.650)">V</text>
<text font-size="100" fill="#000" stroke="#fff" stroke-width="1.29" transform="matrix(0.18000 0 0 0.20804 363.215 466.733)">]</text>
<path d="M40.25 104.30V92.20L37.80 94.80" stroke="#000" stroke-width="1.35" fill="none" stroke-linejoin="round"/>
<ellipse cx="51.48" cy="98.15" rx="4.48" ry="5.90" stroke="#000" stroke-width="1.35" fill="none"/>
<path d="M59.30 92.50H65.50" stroke="#000" stroke-width="1.3"/>
<path d="M68.4 88.2H73.6L70.1 95.3" stroke="#000" stroke-width="1.4" fill="none" stroke-linejoin="round"/>
<path d="M40.25 416.20V403.80L37.80 406.40" stroke="#000" stroke-width="1.35" fill="none" stroke-linejoin="round"/>
<ellipse cx="51.38" cy="409.90" rx="4.38" ry="6.05" stroke="#000" stroke-width="1.35" fill="none"/>
<path d="M59.50 404.10H65.50" stroke="#000" stroke-width="1.3"/>
<ellipse cx="71" cy="401.5" rx="2.15" ry="1.6" stroke="#000" stroke-width="1.25" fill="none"/><ellipse cx="71" cy="405.4" rx="2.55" ry="1.85" stroke="#000" stroke-width="1.25" fill="none"/>
<text font-size="100" fill="#000" stroke="#fff" stroke-width="1.33" transform="matrix(0 -0.20757 0.16872 0 17.550 298.150)">ν</text>
<text font-size="100" fill="#000" stroke="#fff" stroke-width="1.42" transform="matrix(0 -0.17277 0.18036 0 17.550 287.875)">B</text>
<text font-size="100" fill="#000" stroke="#fff" stroke-width="1.97" transform="matrix(0 -0.14919 0.10427 0 22.350 274.750)">ν</text>
<text font-size="100" fill="#000" stroke="#fff" stroke-width="1.18" transform="matrix(0 -0.21266 0.21233 0 17.744 268.092)">[</text>
<text font-size="100" fill="#000" stroke="#fff" stroke-width="1.48" transform="matrix(0 -0.17447 0.16256 0 17.387 259.591)">e</text>
<text font-size="100" fill="#000" stroke="#fff" stroke-width="1.30" transform="matrix(0 -0.22000 0.16558 0 17.550 249.335)">r</text>
<text font-size="100" fill="#000" stroke="#fff" stroke-width="1.42" transform="matrix(0 -0.16889 0.18389 0 18.534 241.668)">g</text>
<line x1="21.2" y1="231.1" x2="2.8" y2="218.5" stroke="#000" stroke-width="1.25"/>
<text font-size="100" fill="#000" stroke="#fff" stroke-width="1.64" transform="matrix(0 -0.14171 0.16256 0 17.387 217.240)">s</text>
<line x1="21.2" y1="205.9" x2="2.8" y2="195.4" stroke="#000" stroke-width="1.25"/>
<text font-size="100" fill="#000" stroke="#fff" stroke-width="1.41" transform="matrix(0 -0.19302 0.16256 0 17.387 193.170)">c</text>
<text font-size="100" fill="#000" stroke="#fff" stroke-width="1.46" transform="matrix(0 -0.17714 0.16558 0 17.550 181.846)">m</text>
<text font-size="100" fill="#000" stroke="#fff" stroke-width="1.83" transform="matrix(0 -0.16044 0.11326 0 8.450 166.252)">2</text>
<line x1="21.2" y1="156.70000000000002" x2="2.8" y2="146.0" stroke="#000" stroke-width="1.25"/>
<text font-size="100" fill="#000" stroke="#fff" stroke-width="1.58" transform="matrix(0 -0.15314 0.16256 0 17.387 143.271)">s</text>
<text font-size="100" fill="#000" stroke="#fff" stroke-width="1.34" transform="matrix(0 -0.20800 0.16558 0 17.550 136.054)">r</text>
<text font-size="100" fill="#000" stroke="#fff" stroke-width="1.26" transform="matrix(0 -0.19000 0.20804 0 17.633 125.193)">]</text></svg></body></html>
